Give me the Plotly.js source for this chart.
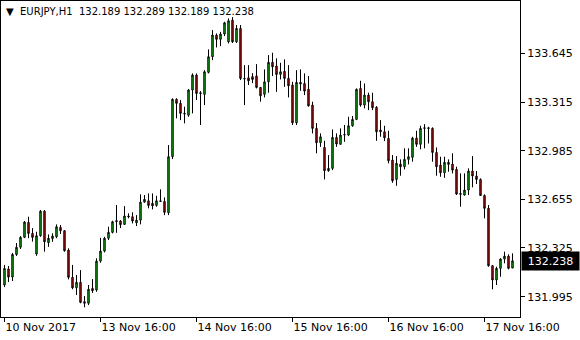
<!DOCTYPE html>
<html>
<head>
<meta charset="utf-8">
<script src="https://cdn.plot.ly/plotly-3.0.1.min.js"></script>
<style>html,body{margin:0;padding:0;background:#fff;}#chart{width:580px;height:340px;}</style>
</head>
<body>
<div id="chart"></div>
<script>
const symbol = "EURJPY,H1";
const open = [
132.074,132.183,132.128,132.281,132.330,132.397,132.499,132.424,132.284,132.408,
132.575,132.361,132.389,132.401,132.465,132.442,132.311,132.126,132.055,132.092,
131.961,131.950,132.051,132.040,132.236,132.304,132.391,132.431,132.503,132.508,
132.485,132.542,132.537,132.496,132.514,132.636,132.645,132.628,132.614,132.645,
132.641,132.564,132.944,133.333,133.306,133.238,133.226,133.396,133.498,133.378,
133.367,133.516,133.622,133.769,133.740,133.776,133.723,133.870,133.723,133.814,
133.475,133.479,133.487,133.491,133.414,133.367,133.452,133.584,133.559,133.502,
133.523,133.475,133.430,133.174,133.448,133.441,133.401,133.294,133.136,133.039,
133.007,132.849,132.865,133.075,133.028,133.095,133.091,133.154,133.197,133.407,
133.294,133.362,133.317,133.279,133.125,133.113,133.068,132.921,132.790,132.894,
132.876,132.926,132.940,133.070,133.028,133.136,133.140,133.136,132.973,132.887,
132.835,132.906,132.894,132.858,132.695,132.684,132.718,132.847,132.813,132.790,
132.681,132.594,132.205,132.108,132.187,132.250,132.270,132.189];
const high = [
132.210,132.203,132.291,132.359,132.406,132.508,132.537,132.460,132.435,132.582,
132.582,132.417,132.424,132.485,132.481,132.447,132.323,132.210,132.142,132.175,
131.999,132.074,132.114,132.255,132.394,132.401,132.469,132.510,132.616,132.514,
132.609,132.560,132.567,132.548,132.689,132.684,132.695,132.695,132.679,132.723,
132.668,133.023,133.340,133.340,133.328,133.283,133.403,133.509,133.509,133.389,
133.531,133.672,133.803,133.780,133.791,133.859,133.882,133.891,133.837,133.837,
133.565,133.565,133.511,133.572,133.416,133.536,133.633,133.649,133.611,133.581,
133.604,133.565,133.452,133.531,133.536,133.509,133.491,133.317,133.172,133.102,
133.052,132.955,133.129,133.102,133.136,133.159,133.215,133.220,133.407,133.459,
133.441,133.378,133.378,133.287,133.192,133.154,133.120,132.955,132.948,132.926,
133.001,133.001,133.079,133.120,133.154,133.165,133.147,133.143,133.007,132.944,
132.944,132.926,132.967,132.876,132.831,132.831,132.865,132.948,132.847,132.797,
132.689,132.616,132.210,132.198,132.255,132.300,132.282,132.289];
const low = [
132.060,132.094,132.101,132.271,132.318,132.392,132.391,132.368,132.272,132.401,
132.300,132.333,132.367,132.391,132.420,132.300,132.112,132.045,132.006,131.950,
131.923,131.938,132.020,132.028,132.225,132.295,132.379,132.424,132.428,132.460,
132.483,132.526,132.492,132.474,132.485,132.632,132.594,132.587,132.605,132.639,
132.548,132.548,132.928,133.204,133.192,133.170,133.215,133.238,133.328,133.159,
133.294,133.509,133.599,133.685,133.694,133.762,133.712,133.715,133.715,133.464,
133.294,133.430,133.443,133.407,133.317,133.346,133.378,133.491,133.384,133.468,
133.418,133.346,133.159,133.159,133.391,133.362,133.283,133.102,132.967,133.011,
132.790,132.842,132.853,133.011,133.028,133.045,133.084,133.147,133.192,133.283,
133.272,133.260,133.260,133.052,133.079,133.050,132.899,132.767,132.747,132.815,
132.858,132.892,132.910,133.011,132.994,133.001,133.034,132.910,132.815,132.808,
132.801,132.842,132.831,132.684,132.605,132.681,132.684,132.736,132.759,132.679,
132.526,132.198,132.045,132.074,132.130,132.221,132.180,132.189];
const close = [
132.186,132.128,132.281,132.330,132.397,132.501,132.424,132.397,132.408,132.575,
132.367,132.391,132.406,132.469,132.442,132.306,132.126,132.055,132.092,131.956,
131.950,132.045,132.035,132.236,132.304,132.391,132.431,132.503,132.510,132.483,
132.542,132.537,132.508,132.514,132.636,132.655,132.614,132.611,132.645,132.641,
132.567,132.944,133.333,133.306,133.238,133.234,133.396,133.498,133.373,133.373,
133.520,133.622,133.769,133.740,133.776,133.852,133.866,133.723,133.814,133.475,
133.472,133.459,133.468,133.414,133.357,133.452,133.584,133.554,133.502,133.520,
133.475,133.425,133.174,133.448,133.437,133.389,133.289,133.136,133.039,133.079,
132.849,132.865,133.075,133.030,133.091,133.092,133.154,133.197,133.401,133.294,
133.362,133.317,133.276,133.113,133.113,133.072,132.917,132.781,132.899,132.876,
132.926,132.944,133.070,133.028,133.136,133.140,133.136,132.973,132.876,132.835,
132.906,132.892,132.853,132.691,132.689,132.718,132.847,132.813,132.790,132.681,
132.594,132.205,132.108,132.187,132.250,132.270,132.187,132.238];
const timeTickBars = [0, 24, 48, 72, 96, 120];
const timeTickLabels = ["10 Nov 2017", "13 Nov 16:00", "14 Nov 16:00", "15 Nov 16:00", "16 Nov 16:00", "17 Nov 16:00"];
const priceTicks = [131.995, 132.325, 132.655, 132.985, 133.315, 133.645];

const x = close.map((_, i) => i);
const n = close.length - 1;
const f3 = v => v.toFixed(3);
const FONT = "DejaVu Sans, Verdana, sans-serif";

const trace = {
  type: "candlestick",
  x: x, open: open, high: high, low: low, close: close,
  increasing: {line: {color: "#000000", width: 1}, fillcolor: "#1ee21e"},
  decreasing: {line: {color: "#000000", width: 1}, fillcolor: "#e01414"},
  whiskerwidth: 0,
  hoverinfo: "skip",
  showlegend: false
};

const layout = {
  width: 580, height: 340,
  margin: {l: 1, r: 60, t: 1, b: 23},
  paper_bgcolor: "#ffffff",
  plot_bgcolor: "#ffffff",
  showlegend: false,
  boxgap: 0.5,
  font: {family: FONT, size: 11, color: "#000000"},
  xaxis: {
    range: [-0.875, 128.875],
    rangeslider: {visible: false},
    showgrid: false, zeroline: false,
    showline: true, linecolor: "#000000", linewidth: 1, mirror: true,
    tickmode: "array", tickvals: timeTickBars, ticktext: timeTickLabels,
    ticks: "outside", ticklen: 4, tickcolor: "#000000",
    ticklabelposition: "outside right",
    tickfont: {family: FONT, size: 11, color: "#000000"}
  },
  yaxis: {
    range: [131.857, 134.000],
    side: "right",
    showgrid: false, zeroline: false,
    showline: true, linecolor: "#000000", linewidth: 1, mirror: true,
    tickmode: "array", tickvals: priceTicks, ticktext: priceTicks.map(f3),
    ticks: "outside", ticklen: 4, tickcolor: "#000000",
    tickfont: {family: FONT, size: 11, color: "#000000"}
  },
  annotations: [
    {
      xref: "paper", yref: "paper", x: 0, y: 1, xanchor: "left", yanchor: "top",
      xshift: 3, yshift: -3, showarrow: false,
      text: "▼&nbsp;&nbsp;" + symbol + "&nbsp;&nbsp;" + [open[n], high[n], low[n], close[n]].map(f3).join(" "),
      font: {family: FONT, size: 10, color: "#000000"}
    },
    {
      xref: "paper", yref: "y", x: 1, y: close[n], xanchor: "left", yanchor: "middle",
      xshift: 1, showarrow: false, text: f3(close[n]),
      bgcolor: "#000000", width: 55, height: 16, align: "center",
      font: {family: FONT, size: 11, color: "#ffffff"}
    }
  ]
};

Plotly.newPlot("chart", [trace], layout, {staticPlot: true, displayModeBar: false});
</script>
</body>
</html>
